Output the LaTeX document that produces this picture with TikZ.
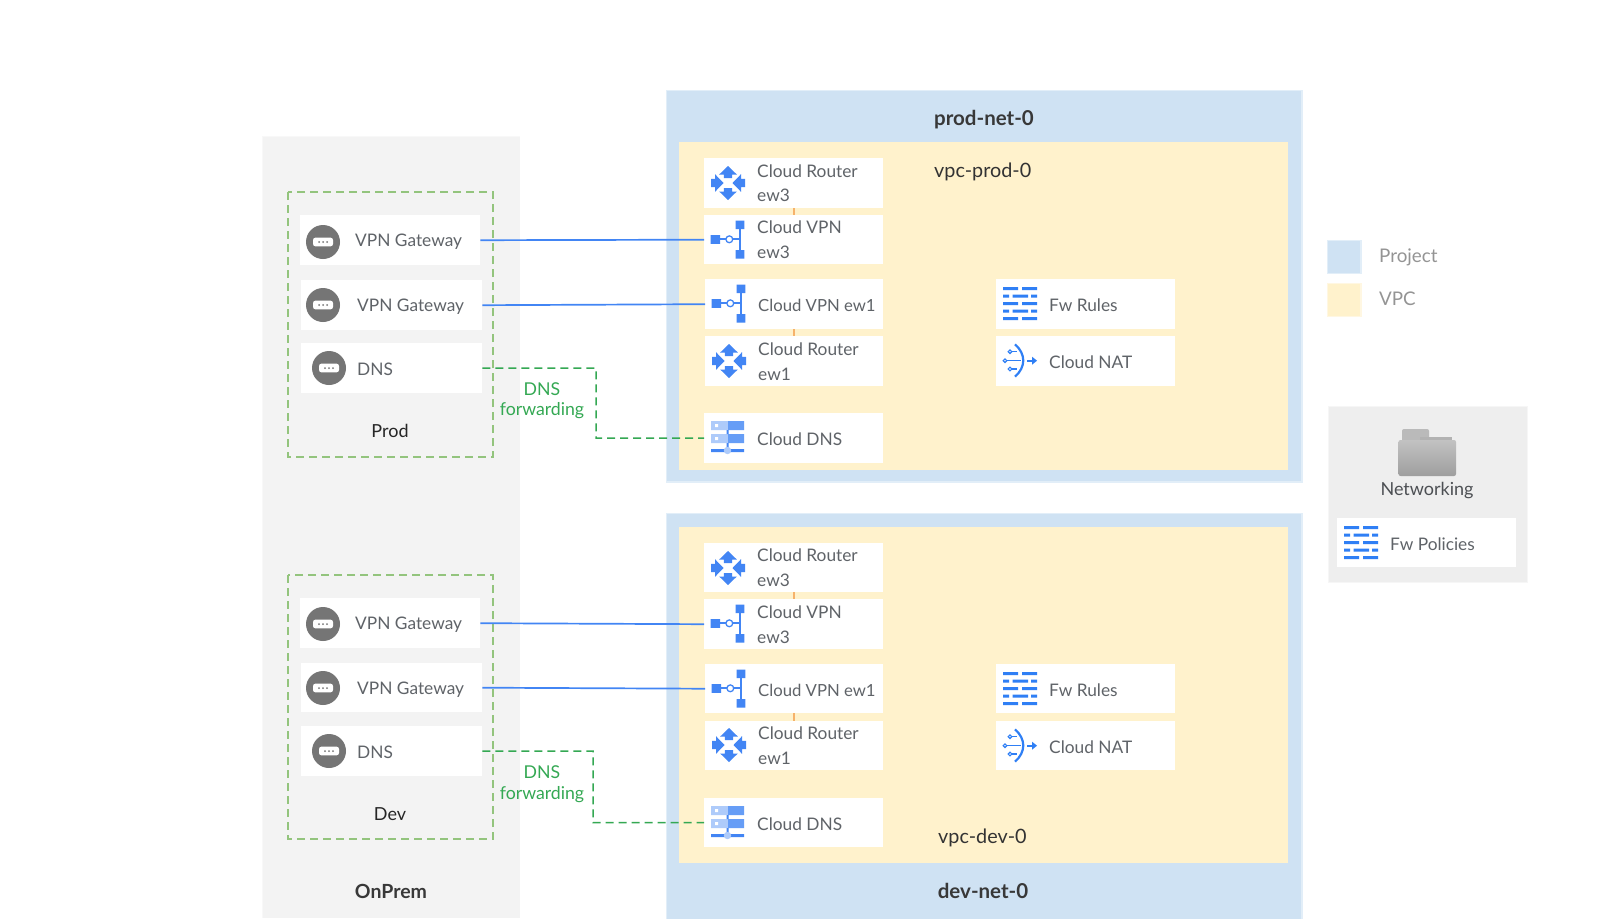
\documentclass[tikz,border=0pt]{standalone}
\usepackage{fontspec}
\setmainfont{Lato}
\definecolor{prj}{HTML}{CFE2F3}
\definecolor{prjb}{HTML}{E2EEF8}
\definecolor{vpc}{HTML}{FFF2CC}
\definecolor{vpcb}{HTML}{FFF7E2}
\definecolor{onp}{HTML}{F3F3F3}
\definecolor{leg}{HTML}{EEEEEE}
\definecolor{gb}{HTML}{93C47D}
\definecolor{gd}{HTML}{34A853}
\definecolor{ib}{HTML}{4285F4}
\definecolor{ifw}{HTML}{2F7FF5}
\definecolor{il}{HTML}{AECBFA}
\definecolor{im}{HTML}{669DF6}
\definecolor{org}{HTML}{F6B26B}
\definecolor{gry}{HTML}{757575}
\definecolor{txt}{HTML}{5F6368}
\tikzset{
  whitebox/.style={fill=white,draw=none,inner sep=0pt,anchor=north west},
  lbl/.style={inner sep=0pt,text=txt,font=\fontsize{17.3}{24.5}\selectfont,align=left,anchor=west},
  lblw/.style={lbl,font=\fontsize{16.7}{24.5}\selectfont},
  dark/.style={inner sep=0pt,text=black!85,font=\fontsize{18}{24}\selectfont},
  head/.style={inner sep=0pt,text=black!78,font=\fontsize{20.5}{24}\selectfont\bfseries},
  greenlbl/.style={inner sep=0pt,text=gd,font=\fontsize{17.7}{20.5}\selectfont,align=center},
  leglbl/.style={inner sep=0pt,text=black!42,font=\fontsize{18.8}{24}\selectfont,anchor=west},
  vpclbl/.style={inner sep=0pt,text=black!80,font=\fontsize{19.8}{24}\selectfont,anchor=west},
  vpnline/.style={draw=ib,line width=1.7pt},
  dnsline/.style={draw=gd,line width=1.5pt,dash pattern=on 8pt off 5pt},
  grpbox/.style={draw=gb,line width=1.4pt,dash pattern=on 8pt off 5pt},
  orgline/.style={draw=org,line width=1.8pt},
}
\newcommand{\wbox}[5]{\node[whitebox,minimum width=#4pt-#2pt,minimum height=#5pt-#3pt] (#1) at (#2,#3) {};}
\newcommand{\gate}[2]{\begin{scope}[shift={(#1,#2)}]
  \fill[gry] (0,0) circle[radius=17];
  \fill[white,rounded corners=2.5pt] (-10,-4.4) rectangle (10,4.4);
  \fill[gry] (-4,0) circle[radius=1] (0,0) circle[radius=1] (4,0) circle[radius=1];
\end{scope}}
\newcommand{\router}[2]{\begin{scope}[shift={(#1,#2)}]
  \fill[ib] (0,-17)--(8.8,-8.5)--(4.2,-8.5)--(4.2,-5)--(-4.2,-5)--(-4.2,-8.5)--(-8.8,-8.5)--cycle;
  \fill[ib] (0,17)--(8.8,8.5)--(4.2,8.5)--(4.2,5)--(-4.2,5)--(-4.2,8.5)--(-8.8,8.5)--cycle;
  \fill[ib] (-17,-4.2)--(-13,-4.2)--(-13,-8.8)--(-4.5,0)--(-13,8.8)--(-13,4.2)--(-17,4.2)--cycle;
  \fill[ib] (17,-4.2)--(13,-4.2)--(13,-8.8)--(4.5,0)--(13,8.8)--(13,4.2)--(17,4.2)--cycle;
\end{scope}}
\newcommand{\vpn}[2]{\begin{scope}[shift={(#1,#2)}]
  \draw[ib,line width=2pt] (15,24.3)--(36,24.3) (36,10)--(36,39);
  \fill[ib] (6.5,20)rectangle(16,28.8) (31.7,5.5)rectangle(40.3,14) (31.7,35)rectangle(40.3,43.5);
  \draw[ib,fill=white,line width=1.3pt] (25.3,24.3) circle[radius=3.4];
\end{scope}}
\newcommand{\clouddns}[2]{\begin{scope}[shift={(#1,#2)}]
  \fill[il] (7,8)rectangle(24,17) (7,21)rectangle(24,30);
  \fill[im] (24,8)rectangle(40,17) (24,21)rectangle(40,30);
  \fill[white] (11,11)rectangle(14,14) (11,24)rectangle(14,27);
  \fill[ib] (22.5,17)rectangle(24.5,21) (22.5,30)rectangle(24.5,36) (7,36)rectangle(40,39);
  \fill[il] (23.5,37.5) circle[radius=3.7];
\end{scope}}
\newcommand{\fwicon}[2]{\begin{scope}[shift={(#1,#2)}]
  \foreach \yy in {0,15,30}{\fill[ifw] (0,\yy)rectangle(15,\yy+3) (19,\yy)rectangle(34,\yy+3);}
  \foreach \yy in {7.5,22.5}{\fill[ifw] (0,\yy)rectangle(6,\yy+3) (9.5,\yy)rectangle(25,\yy+3) (28,\yy)rectangle(34,\yy+3);}
\end{scope}}
\newcommand{\naticon}[2]{\begin{scope}[shift={(#1,#2)}]
  \draw[ifw,line width=2.2pt] (19,8.3) .. controls (30,18) and (30,31) .. (19,40.7);
  \draw[ifw,line width=1.5pt] (15.5,15.7)--(21,15.7) (11,24.7)--(25,24.7) (15.5,33)--(21,33);
  \draw[ifw,line width=1.1pt,fill=white] (14,15.7) circle[radius=1.8] (9,24.7) circle[radius=1.8] (14,33) circle[radius=1.8];
  \draw[ifw,line width=1.8pt] (31,24.7)--(37,24.7);
  \fill[ifw] (41,24.7)--(36,20.7)--(36,28.7)--cycle;
\end{scope}}
\begin{document}
\begin{tikzpicture}[x=1pt,y=-1pt]
\useasboundingbox (0,0) rectangle (1600,918);
% OnPrem
\fill[onp!60!white] (262,136) rectangle (520,918);
\fill[onp] (263,137) rectangle (520,918);
% projects
\filldraw[fill=prj,draw=prjb,line width=1.2pt] (666.5,90.5) rectangle (1302,482);
\filldraw[fill=prj,draw=prjb,line width=1.2pt] (666.5,513.5) rectangle (1302,925);
\fill[vpc] (679,142) rectangle (1288,469.5);
\fill[vpc] (679,527) rectangle (1288,863);
% legend
\filldraw[fill=prj,draw=prjb,line width=1.2pt] (1327.5,240.5) rectangle (1361,273.5);
\filldraw[fill=vpc,draw=vpcb,line width=1.2pt] (1327.5,283.5) rectangle (1361,316.5);
\node[leglbl] (lgp) at (1379,257) {Project};
\node[leglbl] (lgv) at (1379,299) {VPC};
\filldraw[fill=leg,draw=leg!50!white,line width=1pt] (1328,406) rectangle (1527,582);
\begin{scope}
 \fill[black!27,rounded corners=2pt] (1402,429) rectangle (1429,445);
 \fill[black!30] (1420,437) rectangle (1452,445);
 \shade[top color=black!24,bottom color=black!38,rounded corners=2pt] (1398.5,440) rectangle (1456,476);
\end{scope}
\node[dark,text=txt!80!black] (nw) at (1427,491) {Networking};
\wbox{fwp}{1337}{518}{1516}{567}
\fwicon{1344}{526}
\node[lbl] (fwpt) at (1390,544) {Fw Policies};
% Groups
\draw[grpbox] (288,192) rectangle (493,457);
\draw[grpbox] (288,575) rectangle (493,839);
% prod on-prem
\wbox{pg1}{300}{215}{480}{265}
\wbox{pg2}{301}{280}{482}{330}
\wbox{pd}{301}{343}{482}{393}
\gate{323}{242}\gate{323}{305}\gate{329}{368}
\node[lbl] (pg1t) at (355,242) {VPN Gateway};
\node[lbl] (pg2t) at (357,307) {VPN Gateway};
\node[lbl] (pdt) at (357,369) {DNS};
\node[dark] (prodl) at (390,431) {Prod};
% dev on-prem
\wbox{dg1}{300}{598}{480}{648}
\wbox{dg2}{301}{663}{482}{712}
\wbox{dd}{301}{726}{482}{776}
\gate{323}{624}\gate{323}{688}\gate{329}{751}
\node[lbl] (dg1t) at (355,625) {VPN Gateway};
\node[lbl] (dg2t) at (357,690) {VPN Gateway};
\node[lbl] (ddt) at (357,752) {DNS};
\node[dark] (devl) at (390,814) {Dev};
\node[head,font=\fontsize{19.5}{24}\selectfont\bfseries] (onpl) at (391,891) {OnPrem};
% prod right
\node[head] (pnet) at (984,120) {prod-net-0};
\node[vpclbl] (pvpc) at (934,172) {vpc-prod-0};
\wbox{pr3}{704}{158}{883}{208}
\wbox{pv3}{704}{215}{883}{264}
\wbox{pv1}{705}{279}{883}{329}
\wbox{pr1}{705}{336}{883}{386}
\wbox{pcd}{704}{413}{883}{463}
\wbox{pfw}{996}{279}{1175}{329}
\wbox{pnat}{996}{336}{1175}{386}
\router{728}{183}\vpn{704}{215}\vpn{705}{279}\router{729}{361}\clouddns{704}{413}
\fwicon{1003}{287}\naticon{996}{336}
\node[lbl] (pr3t) at (757,183) {Cloud Router\\ew3};
\node[lbl] (pv3t) at (757,239.5) {Cloud VPN\\ew3};
\node[lblw] (pv1t) at (758,305) {Cloud VPN ew1};
\node[lbl] (pr1t) at (758,361.5) {Cloud Router\\ew1};
\node[lbl] (pcdt) at (757,439) {Cloud DNS};
\node[lbl] (pfwt) at (1049,305) {Fw Rules};
\node[lbl] (pnatt) at (1049,362) {Cloud NAT};
% dev right
\node[head] (dnet) at (983,891) {dev-net-0};
\node[vpclbl] (dvpc) at (938,838) {vpc-dev-0};
\wbox{dr3}{704}{543}{883}{592}
\wbox{dv3}{704}{599}{883}{649}
\wbox{dv1}{705}{664}{883}{713}
\wbox{dr1}{705}{721}{883}{770}
\wbox{dcd}{704}{798}{883}{847}
\wbox{dfw}{996}{664}{1175}{713}
\wbox{dnat}{996}{721}{1175}{770}
\router{728}{568}\vpn{704}{599}\vpn{705}{664}\router{729}{745}\clouddns{704}{798}
\fwicon{1003}{672}\naticon{996}{721}
\node[lbl] (dr3t) at (757,567.5) {Cloud Router\\ew3};
\node[lbl] (dv3t) at (757,624.5) {Cloud VPN\\ew3};
\node[lblw] (dv1t) at (758,690) {Cloud VPN ew1};
\node[lbl] (dr1t) at (758,745.5) {Cloud Router\\ew1};
\node[lbl] (dcdt) at (757,824) {Cloud DNS};
\node[lbl] (dfwt) at (1049,690) {Fw Rules};
\node[lbl] (dnatt) at (1049,747) {Cloud NAT};
% connectors
\draw[vpnline] (pg1.east)--(pv3.west);
\draw[vpnline] (pg2.east)--(pv1.west);
\draw[vpnline] (dg1.east)--(dv3.west);
\draw[vpnline] (dg2.east)--(dv1.west);
\draw[orgline] (pr3.south)--(pv3.north);
\draw[orgline] (pv1.south)--(pr1.north);
\draw[orgline] (dr3.south)--(dv3.north);
\draw[orgline] (dv1.south)--(dr1.north);
\coordinate (pk) at (596,368);
\coordinate (dk) at (593,751);
\draw[dnsline] (pd.east)--(pk)--(pk|-pcd.west)--(pcd.west);
\draw[dnsline] (dd.east)--(dk)--(dk|-dcd.west)--(dcd.west);
\node[greenlbl] (pfl) at (542,400.5) {DNS\\forwarding};
\node[greenlbl] (dfl) at (542,784) {DNS\\forwarding};
\end{tikzpicture}
\end{document}
